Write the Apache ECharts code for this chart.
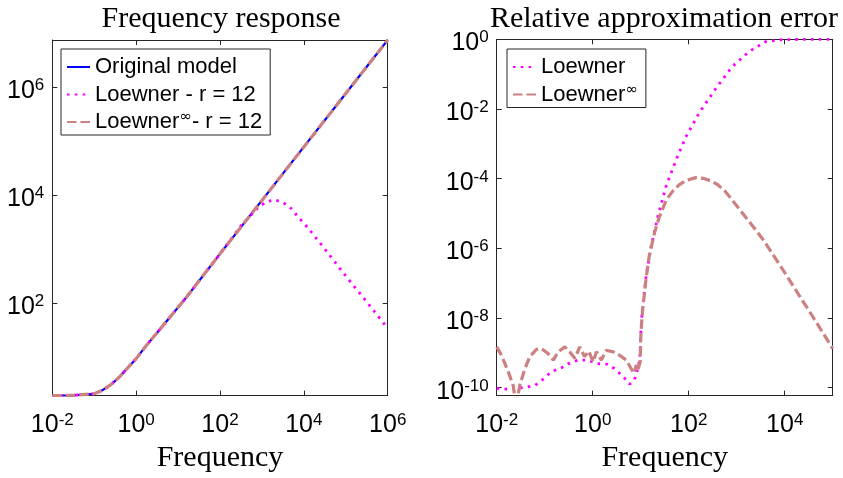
<!DOCTYPE html>
<html>
<head>
<meta charset="utf-8">
<script src="https://cdn.jsdelivr.net/npm/echarts@6/dist/echarts.min.js"></script>
<style>
html,body{margin:0;padding:0;background:#fff;}
#chart{width:843px;height:478px;}
</style>
</head>
<body>
<div id="chart"></div>
<script>
// ---------- data ----------
// Left: frequency response magnitude
const freqOrig = [0.01, 0.0316, 0.1, 0.158, 0.251, 0.398, 0.631, 1, 1.78, 3.16, 6.46, 14.8, 100, 1000, 1e4, 1e5, 1e6];
const magOrig  = [1.93, 1.95, 2.09, 2.43, 3.09, 4.27, 6.31, 9.33, 16.6, 28.2, 55, 120, 813, 7943, 77600, 758600, 7413000];

const freqLoew = [0.01, 0.0316, 0.1, 0.158, 0.251, 0.398, 0.631, 1, 1.78, 3.16, 6.46, 14.8, 100, 316, 562, 794, 1259, 1995, 3162, 5012, 7943, 12589, 31623, 1e5, 316228, 1e6];
const magLoew  = [1.93, 1.95, 2.09, 2.43, 3.09, 4.27, 6.31, 9.33, 16.6, 28.2, 55, 120, 813, 2690, 4365, 5750, 7500, 8130, 7330, 5620, 3630, 2455, 1000, 316, 105, 34];

const freqLoewInf = [0.01, 0.0316, 0.1, 0.158, 0.251, 0.398, 0.631, 1, 1.78, 3.16, 6.46, 14.8, 100, 1000, 1e4, 1e5, 1e6];
const magLoewInf  = [1.93, 1.95, 2.09, 2.43, 3.09, 4.27, 6.31, 9.33, 16.6, 28.2, 55, 120, 813, 7943, 77600, 758600, 7413000];

// Right: relative approximation error
const freqErrLoew = [0.01, 0.0158, 0.0251, 0.0398, 0.0631, 0.0891, 0.138, 0.224, 0.316, 0.501, 0.794, 1.26, 2.0, 2.82, 3.98, 5.01, 5.89, 7.41, 8.51, 9.33, 9.77, 10, 10.5, 11.1, 13.0, 16.6, 22.9, 33.9, 55, 89.1, 166, 372, 813, 1820, 3981, 8913, 31623, 1e5];
const errLoew     = [9.5e-11, 9.1e-11, 9.5e-11, 1.02e-10, 1.17e-10, 1.66e-10, 2.88e-10, 3.72e-10, 4.9e-10, 6.17e-10, 6.17e-10, 4.9e-10, 4.68e-10, 3.55e-10, 2.29e-10, 1.66e-10, 1.26e-10, 1.66e-10, 3.16e-10, 5.62e-10, 1e-9, 3.16e-9, 1e-8, 2.29e-8, 1.66e-7, 1.17e-6, 8.5e-6, 6.17e-5, 3.55e-4, 1.66e-3, 7.76e-3, 0.0398, 0.166, 0.447, 0.851, 0.977, 1, 1];

const freqErrLoewInf = [0.01, 0.0126, 0.0174, 0.0224, 0.0251, 0.0302, 0.0389, 0.049, 0.0676, 0.0851, 0.117, 0.151, 0.191, 0.263, 0.331, 0.427, 0.537, 0.676, 0.832, 1.02, 1.2, 1.51, 1.91, 2.63, 3.63, 5.01, 6.31, 7.24, 8.13, 8.71, 9.77, 10, 10.5, 11.1, 13.0, 15.1, 19.5, 24.5, 33.9, 46.8, 63.1, 89.1, 141, 200, 282, 398, 562, 794, 1122, 1995, 3467, 8913, 23442, 38019, 1e5];
const errLoewInf     = [1.48e-9, 8.5e-10, 2.88e-10, 1.07e-10, 2.5e-11, 1.17e-10, 3.55e-10, 7.76e-10, 1.26e-9, 1.32e-9, 9.5e-10, 6.17e-10, 1.07e-9, 1.48e-9, 1.07e-9, 6.9e-10, 1.48e-9, 7.76e-10, 1.12e-9, 5.5e-10, 1.07e-9, 6.17e-10, 1.17e-9, 1.07e-9, 8.5e-10, 6.17e-10, 3.55e-10, 2.57e-10, 4.47e-10, 3.16e-10, 5.5e-10, 2.51e-9, 7.94e-9, 2e-8, 1.41e-7, 6.17e-7, 2.88e-6, 7.94e-6, 2.4e-5, 4.47e-5, 6.6e-5, 8.9e-5, 1.07e-4, 1.02e-4, 8.7e-5, 6.8e-5, 4.47e-5, 2.51e-5, 1.35e-5, 5.0e-6, 1.86e-6, 2.57e-7, 3.16e-8, 1.12e-8, 1.32e-9];

// Axis ranges and tick values
const leftXRange = [0.01, 1e6];
const leftYRange = [1.93, 7.41e6];
const rightXRange = [0.01, 1e5];
const rightYRange = [5.9e-11, 1];
const leftXTicks = [1e-2, 1, 1e2, 1e4, 1e6];
const leftYTicks = [1e2, 1e4, 1e6];
const rightXTicks = [1e-2, 1, 1e2, 1e4];
const rightYTicks = [1e-10, 1e-8, 1e-6, 1e-4, 1e-2, 1];

const titles = ['Frequency response', 'Relative approximation error'];
const xName = 'Frequency';
const namesLeft = ['Original model', 'Loewner - r = 12', 'Loewner∞- r = 12'];
const namesRight = ['Loewner', 'Loewner∞'];

// ---------- chart ----------
const AX = '#262626';
const BLUE = '#0000ff', MAG = '#ff00ff', BROWN = '#cc8080';
const LAB_FONT = 'Liberation Sans, Arial, sans-serif';
const SERIF = 'Liberation Serif, Times New Roman, serif';

function pow10Label(v) {
  const e = Math.round(Math.log10(v));
  return '{b|10}{s|' + e + '}';
}
const richPow = {
  b: { fontSize: 25, fontFamily: LAB_FONT, color: '#000', lineHeight: 26, padding: [8, 0, 0, 0] },
  s: { fontSize: 17, fontFamily: LAB_FONT, color: '#000', lineHeight: 17, padding: [3, 0, 0, 0], verticalAlign: 'top' }
};

function pair(xs, ys) { return xs.map((x, i) => [x, ys[i]]); }

function makeX(gridIndex, range, ticks, main) {
  return {
    type: 'log', logBase: 10, gridIndex: gridIndex,
    position: main ? 'bottom' : 'top',
    min: range[0], max: range[1],
    name: main ? xName : '',
    nameLocation: 'middle', nameGap: 46,
    nameTextStyle: { fontFamily: SERIF, fontSize: 30, color: '#000' },
    axisLine: { show: true, onZero: false, lineStyle: { color: AX, width: 1 } },
    axisTick: { show: true, inside: true, length: 5, customValues: ticks, lineStyle: { color: AX } },
    axisLabel: { show: main, customValues: ticks, margin: 13, formatter: pow10Label, rich: richPow },
    splitLine: { show: false }, minorTick: { show: false }
  };
}
function makeY(gridIndex, range, ticks, main) {
  return {
    type: 'log', logBase: 10, gridIndex: gridIndex,
    position: main ? 'left' : 'right',
    min: range[0], max: range[1],
    axisLine: { show: true, onZero: false, lineStyle: { color: AX, width: 1 } },
    axisTick: { show: true, inside: true, length: 5, customValues: ticks, lineStyle: { color: AX } },
    axisLabel: { show: main, customValues: ticks, margin: 8, formatter: pow10Label, rich: richPow },
    splitLine: { show: false }, minorTick: { show: false }
  };
}

function legendFmt(name) {
  const i = name.indexOf('∞');
  if (i < 0) return name;
  return name.slice(0, i) + '{sup|∞}' + name.slice(i + 1);
}
function makeLegend(data, left) {
  return {
    data: data, orient: 'vertical', left: left, top: 49,
    itemWidth: 23, itemHeight: 10, itemGap: 3.5,
    padding: [6, 8, 1, 5],
    borderColor: AX, borderWidth: 1, backgroundColor: '#fff',
    itemStyle: { opacity: 0, color: 'rgba(0,0,0,0)', borderWidth: 0 },
    formatter: legendFmt,
    textStyle: {
      fontFamily: LAB_FONT, fontSize: 22, color: '#000', lineHeight: 24,
      rich: { sup: { fontFamily: 'DejaVu Sans, sans-serif', fontSize: 15, lineHeight: 15, padding: [0, 0, 9, 0], color: '#000' } }
    }
  };
}

const chart = echarts.init(document.getElementById('chart'), null, { renderer: 'canvas' });
chart.setOption({
  animation: false,
  backgroundColor: '#fff',
  title: [
    { text: titles[0], left: 216, top: -1, textAlign: 'center', textStyle: { fontFamily: SERIF, fontSize: 30, fontWeight: 'normal', color: '#000' } },
    { text: titles[1], left: 659, top: -1, textAlign: 'center', textStyle: { fontFamily: SERIF, fontSize: 30, fontWeight: 'normal', color: '#000' } }
  ],
  grid: [
    { left: 52.3, top: 40, width: 335.4, height: 357.3, containLabel: false },
    { left: 496.7, top: 39.3, width: 336, height: 358, containLabel: false }
  ],
  legend: [makeLegend(namesLeft, 61), makeLegend(namesRight, 507)],
  xAxis: [
    makeX(0, leftXRange, leftXTicks, true), makeX(0, leftXRange, leftXTicks, false),
    makeX(1, rightXRange, rightXTicks, true), makeX(1, rightXRange, rightXTicks, false)
  ],
  yAxis: [
    makeY(0, leftYRange, leftYTicks, true), makeY(0, leftYRange, leftYTicks, false),
    makeY(1, rightYRange, rightYTicks, true), makeY(1, rightYRange, rightYTicks, false)
  ],
  series: [
    { name: namesLeft[0], type: 'line', xAxisIndex: 0, yAxisIndex: 0, symbol: 'none', data: pair(freqOrig, magOrig),
      lineStyle: { color: BLUE, width: 2.2 }, itemStyle: { color: BLUE } },
    { name: namesLeft[1], type: 'line', xAxisIndex: 0, yAxisIndex: 0, symbol: 'none', data: pair(freqLoew, magLoew),
      lineStyle: { color: MAG, width: 2.8, type: [2.6, 5.2] }, itemStyle: { color: MAG } },
    { name: namesLeft[2], type: 'line', xAxisIndex: 0, yAxisIndex: 0, symbol: 'none', data: pair(freqLoewInf, magLoewInf),
      lineStyle: { color: BROWN, width: 3.2, type: [9.5, 4] }, itemStyle: { color: BROWN } },
    { name: namesRight[0], type: 'line', xAxisIndex: 2, yAxisIndex: 2, symbol: 'none', clip: false, data: pair(freqErrLoew, errLoew),
      lineStyle: { color: MAG, width: 2.8, type: [2.6, 5.2] }, itemStyle: { color: MAG } },
    { name: namesRight[1], type: 'line', xAxisIndex: 2, yAxisIndex: 2, symbol: 'none', data: pair(freqErrLoewInf, errLoewInf),
      lineStyle: { color: BROWN, width: 3.2, type: [9.5, 4] }, itemStyle: { color: BROWN } }
  ]
});
</script>
</body>
</html>
